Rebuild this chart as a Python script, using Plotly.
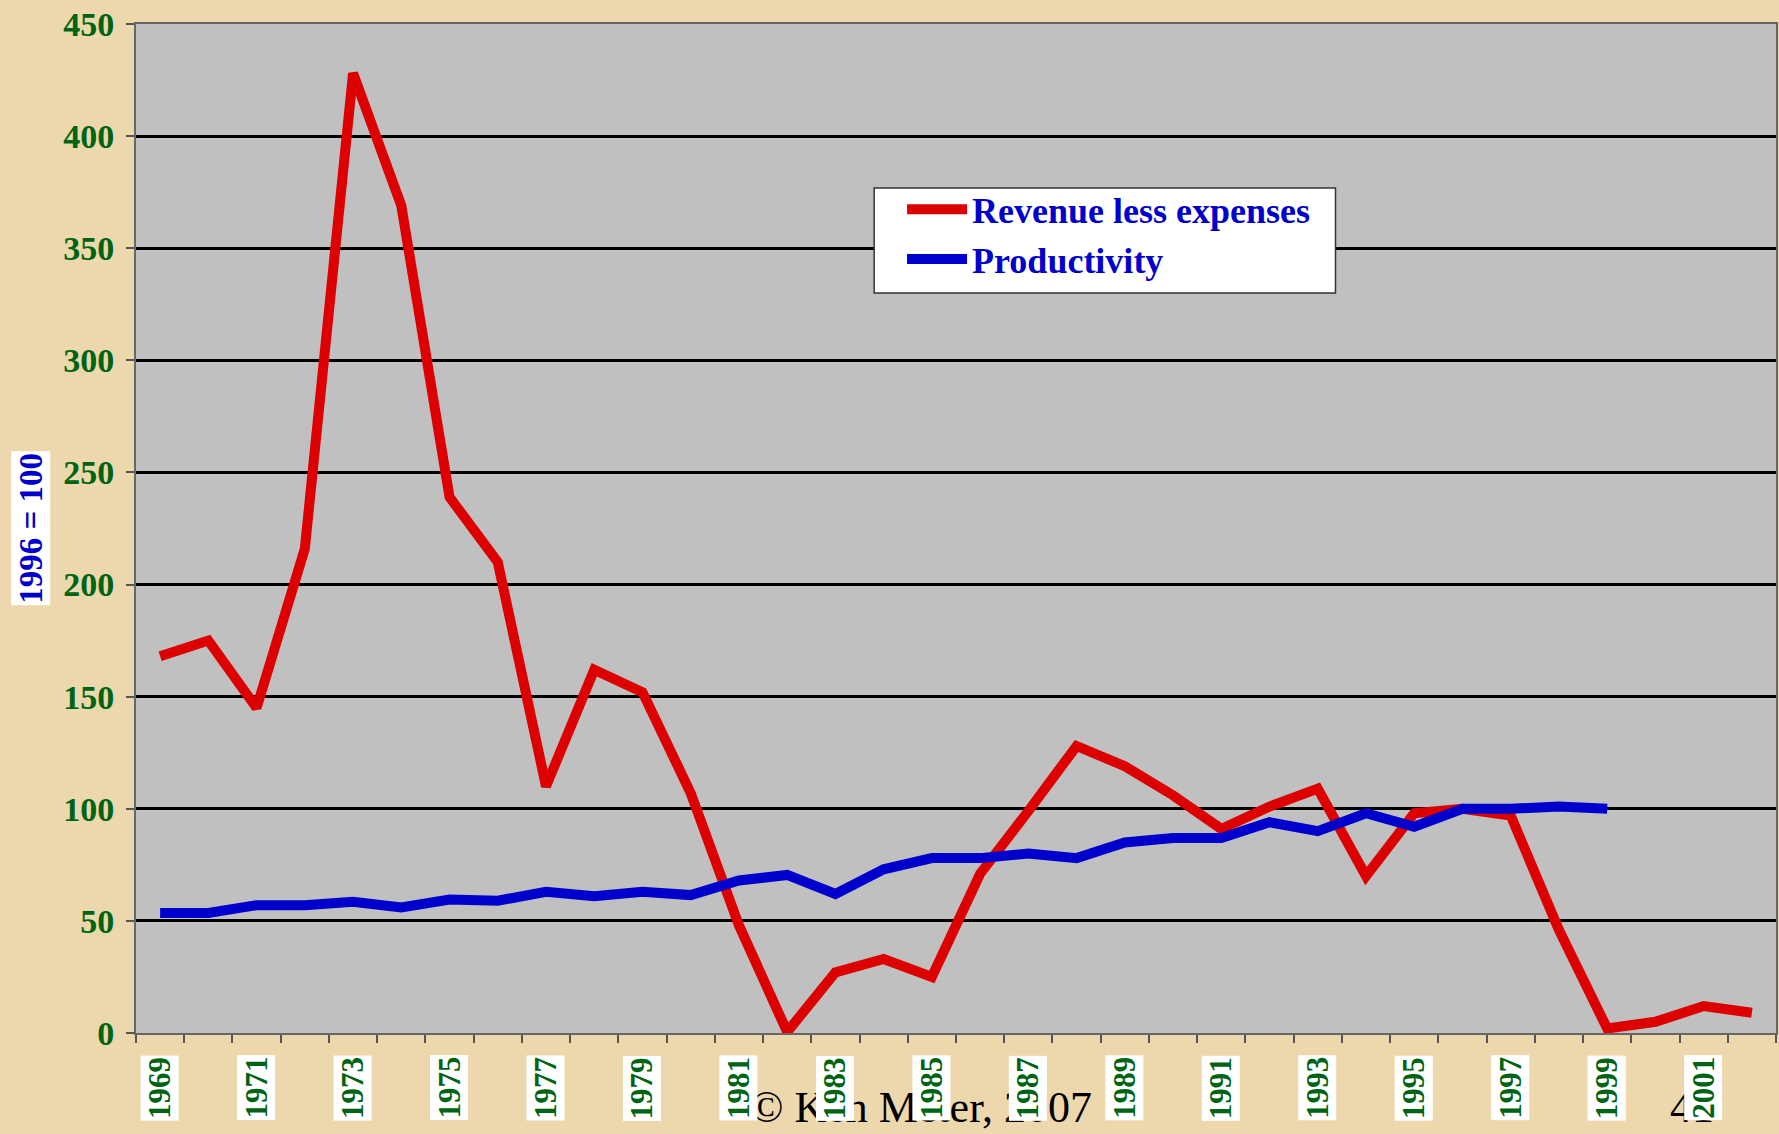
import plotly.graph_objects as go

years = list(range(1969, 2003))
revenue_less_expenses = [168, 175, 145, 216, 428, 369, 239, 210, 110, 162, 152, 107, 48, 0.5,
                         27, 33, 25, 71, 99, 128, 119, 106, 91, 101, 109, 70, 98, 100, 97,
                         46, 2, 5, 12, 9]
productivity_years = list(range(1969, 2000))
productivity = [53.5, 53.5, 57, 57, 58.5, 56, 59.5, 59, 63, 61, 63, 61.5, 68, 70.5, 62, 73,
                78, 78, 80, 78, 85, 87, 87, 94, 90, 98, 92, 100, 100, 101, 100]
y_ticks = [0, 50, 100, 150, 200, 250, 300, 350, 400, 450]
x_label_years = years[::2]

SERIF = "Liberation Serif"
GREEN = "#006414"
BLUE = "#0000CC"
RED = "#DD0000"

fig = go.Figure()
fig.add_trace(go.Scatter(x=years, y=revenue_less_expenses, mode="lines",
                         name="Revenue less expenses",
                         line=dict(color=RED, width=10)))
fig.add_trace(go.Scatter(x=productivity_years, y=productivity, mode="lines",
                         name="Productivity",
                         line=dict(color=BLUE, width=10)))

annotations = []
# footer text (drawn first so labels sit above it)
annotations.append(dict(text="© Ken Meter, 2007", xref="paper", yref="paper",
                        x=0.4787, y=-0.074, xanchor="center", yanchor="middle",
                        showarrow=False, font=dict(family=SERIF, size=44, color="black")))
annotations.append(dict(text="41", xref="paper", yref="paper",
                        x=0.9488, y=-0.074, xanchor="center", yanchor="middle",
                        showarrow=False, font=dict(family=SERIF, size=44, color="black")))
# x tick labels with white boxes
for yr in x_label_years:
    annotations.append(dict(text=str(yr), xref="x", yref="paper", x=yr, y=-0.0545,
                            xanchor="center", yanchor="middle", textangle=-90,
                            showarrow=False, bgcolor="white", borderpad=1,
                            font=dict(family=SERIF, size=31, color=GREEN, weight="bold")))
# y axis title
annotations.append(dict(text="1996 = 100", xref="paper", yref="paper",
                        x=-0.0645, y=0.5, xanchor="center", yanchor="middle",
                        textangle=-90, showarrow=False, bgcolor="white", borderpad=1,
                        font=dict(family=SERIF, size=33, color=BLUE, weight="bold")))

# legend frame
shapes = [dict(type="rect", xref="paper", yref="paper", x0=0.4501, x1=0.7314,
               y0=0.7334, y1=0.8375, fillcolor="white",
               line=dict(color="#333333", width=1.5), layer="above")]

fig.update_layout(
    width=1779, height=1134,
    margin=dict(l=136, r=1, t=24, b=101),
    paper_bgcolor="#EDD8AE",
    plot_bgcolor="#C0C0C0",
    showlegend=True,
    legend=dict(x=0.4671, y=0.846, xanchor="left", yanchor="top",
                bgcolor="rgba(0,0,0,0)", borderwidth=0,
                itemwidth=60,
                font=dict(family=SERIF, size=36, color=BLUE, weight="bold")),
    annotations=annotations,
    shapes=shapes,
    xaxis=dict(range=[1968.5, 2002.5],
               tickmode="array", tickvals=[y + 0.5 for y in range(1968, 2003)],
               showticklabels=False, ticks="outside", ticklen=8, tickwidth=2,
               tickcolor="#555555", showgrid=False, zeroline=False,
               showline=True, linecolor="#666666", linewidth=2, mirror=True),
    yaxis=dict(range=[0, 450], tickmode="array", tickvals=y_ticks,
               ticks="outside", ticklen=8, tickwidth=2, tickcolor="#555555",
               ticklabelstandoff=5,
               tickfont=dict(family=SERIF, size=34, color=GREEN, weight="bold"),
               showgrid=True, gridcolor="black", gridwidth=3, zeroline=False,
               showline=True, linecolor="#666666", linewidth=2, mirror=True),
)

fig.write_html("out.html", config={"displayModeBar": False},
               post_script="document.body.style.margin='0';"
                           "document.body.style.padding='0';"
                           "document.body.style.overflow='hidden';")
